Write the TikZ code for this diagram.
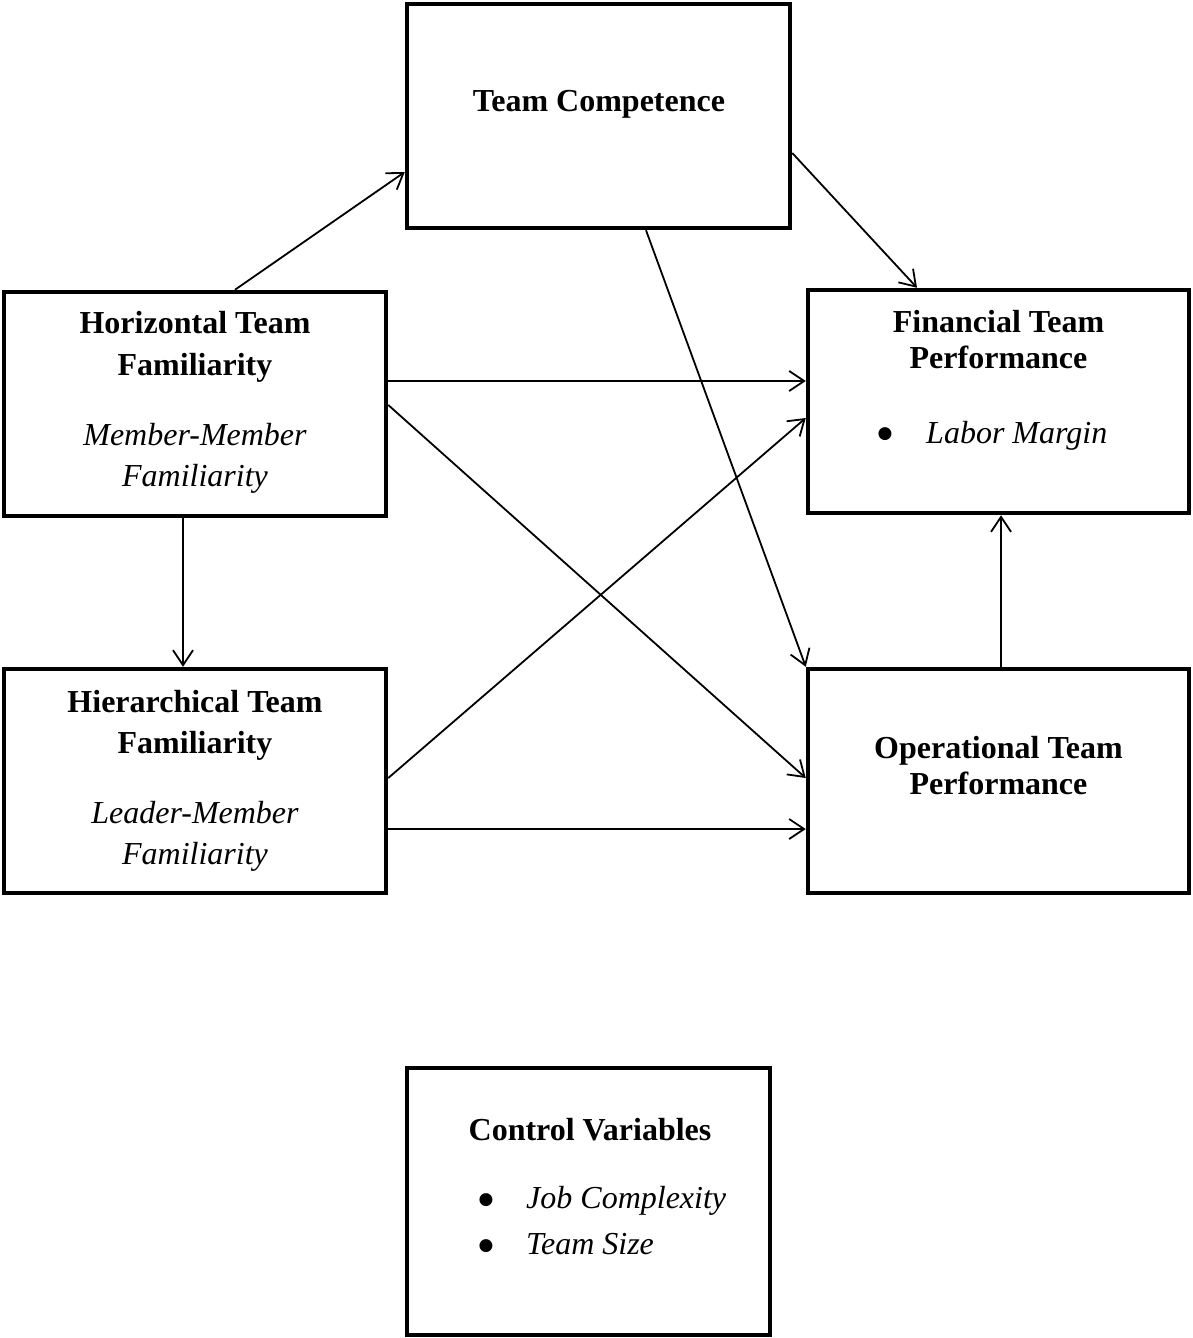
\documentclass[tikz,border=0pt]{standalone}
\usepackage{fontspec}
\setmainfont{Liberation Serif}
\newfontfamily\symfnt{DejaVu Sans}
\usetikzlibrary{arrows.meta}
\begin{document}
\begin{tikzpicture}[x=1pt,y=-1pt,
  box/.style={draw, line width=4.5pt, rectangle, inner sep=0pt},
  lbl/.style={inner sep=0pt, anchor=base, font=\fontsize{32}{42}\selectfont},
  bftxt/.style={lbl, font=\fontsize{32}{42}\selectfont\bfseries},
  ittxt/.style={lbl, font=\fontsize{32}{42}\selectfont\itshape},
  bul/.style={inner sep=0pt, anchor=center, font=\symfnt\fontsize{17}{17}\selectfont},
  conn/.style={line width=1.8pt, -{Straight Barb[length=15pt,width=20pt]}}]
\useasboundingbox (0,0) rectangle (1192,1338);

% boxes
\node[box, minimum width=383pt, minimum height=224pt] (tc)   at (598.5,116) {};
\node[box, minimum width=382pt, minimum height=224pt] (htf)  at (195,404) {};
\node[box, minimum width=382pt, minimum height=224pt] (hitf) at (195,781) {};
\node[box, minimum width=381pt, minimum height=223pt] (ftp)  at (998.5,401.5) {};
\node[box, minimum width=381pt, minimum height=224pt] (otp)  at (998.5,781) {};
\node[box, minimum width=363pt, minimum height=267pt] (cv)   at (588.5,1201.5) {};

% texts
\node[bftxt] (tct) at (599,111) {Team Competence};

\node[bftxt] (htf1) at (195,333) {Horizontal Team};
\node[bftxt] (htf2) at (195,375) {Familiarity};
\node[ittxt] (htf3) at (195,445) {Member-Member};
\node[ittxt] (htf4) at (195,486) {Familiarity};

\node[bftxt] (hit1) at (195,712) {Hierarchical Team};
\node[bftxt] (hit2) at (195,753) {Familiarity};
\node[ittxt] (hit3) at (195,823) {Leader-Member};
\node[ittxt] (hit4) at (195,864) {Familiarity};

\node[bftxt] (ftp1) at (998.5,332) {Financial Team};
\node[bftxt] (ftp2) at (998.5,368) {Performance};
\node[bul] (ftpb) at (885,434) {●};
\node[ittxt, anchor=base west] (ftp3) at (926,443) {Labor Margin};

\node[bftxt] (otp1) at (998.5,758) {Operational Team};
\node[bftxt] (otp2) at (998.5,794) {Performance};

\node[bftxt] (cv1) at (590,1140) {Control Variables};
\node[bul] (cvb1) at (486,1200) {●};
\node[ittxt, anchor=base west] (cv2) at (526,1208) {Job Complexity};
\node[bul] (cvb2) at (486,1246) {●};
\node[ittxt, anchor=base west] (cv3) at (526,1254) {Team Size};

% connectors
\draw[conn] ([xshift=40pt]htf.north) -- ([yshift=-56pt]tc.west);
\draw[conn] ([yshift=-37pt]tc.east) -- ([xshift=-81.5pt]ftp.north);
\draw[conn] ([xshift=47.5pt]tc.south) -- (otp.north west);
\draw[conn] ([yshift=23pt]htf.east) -- ([yshift=23pt]htf.east -| ftp.west);
\draw[conn] ([yshift=-1pt]htf.east) -- ([yshift=3pt]otp.west);
\draw[conn] ([xshift=-12pt]htf.south) -- ([xshift=-12pt]hitf.north);
\draw[conn] ([yshift=3pt]hitf.east) -- ([yshift=-16.5pt]ftp.west);
\draw[conn] ([yshift=-48pt]hitf.east) -- ([yshift=-48pt]hitf.east -| otp.west);
\draw[conn] ([xshift=2.5pt]otp.north) -- ([xshift=2.5pt]ftp.south);
\end{tikzpicture}
\end{document}
